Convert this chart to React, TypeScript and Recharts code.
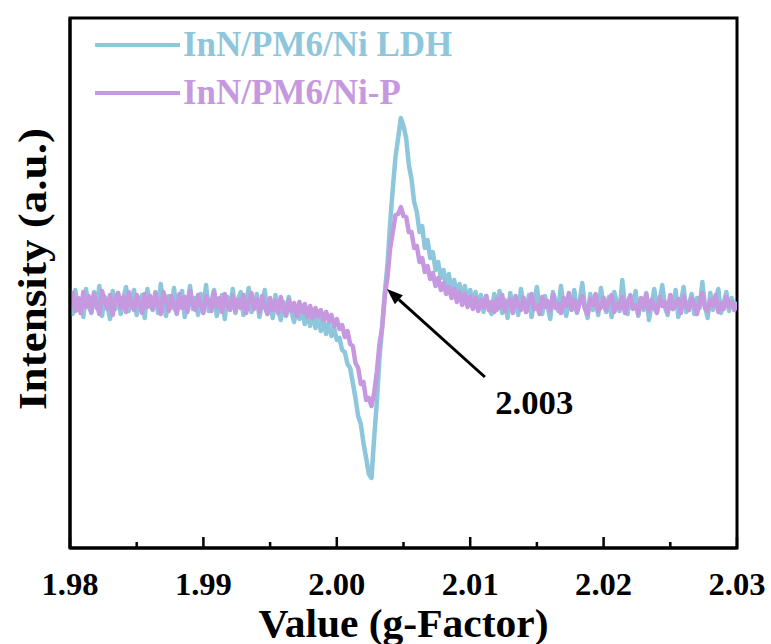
import { ComposedChart, Label, Legend, Line, ReferenceArea, ReferenceDot, ReferenceLine, XAxis, YAxis } from 'recharts';

const SERIF = '"Liberation Serif", "Times New Roman", serif';
const BLUE = '#8ec6dc';
const PURPLE = '#c598e0';

// g-factor grid the trace was read at
const G_START = 1.98;
const G_STEP = 0.0002;

const xTicks = [1.98, 1.985, 1.99, 1.995, 2.0, 2.005, 2.01, 2.015, 2.02, 2.025, 2.03];

// intensities (a.u.), one per grid step
const ldhIntensity = [
  4, -16, 8, -12, -1, -19, 9, -8, -15, 6,
  -10, 12, -18, 1, -6, -21, 7, -11, 5, -16,
  0, 11, -13, -3, 8, -17, -5, 3, -20, 9,
  -7, -12, 6, -15, 14, -6, -18, 2, -10, 10,
  -16, -2, 7, -19, -5, 12, -11, 0, -17, 4,
  -9, 13, -13, -3, 8, -18, -7, 3, -21, 1,
  -11, 9, -15, -1, 6, -17, -4, 10, -14, -8,
  4, -19, -6, 8, -16, -2, -20, 3, -12, -22,
  -4, -18, 1, -14, -24, -8, -21, -11, -26, -13,
  -28, -12, -30, -17, -33, -22, -36, -25, -38, -30,
  -42, -40, -52, -54, -66, -70, -85, -100, -118, -126, -145, -160, -176, -180,
  -140, -104, -60, -29, 5, 34, 75, 110, 141, 160, 180,
  172, 160, 133, 119, 96, 86, 66, 72, 50, 58, 40, 46, 28, 36, 20,
  28, 12, 24, 6, 18, 2, 14, -2, 12, -6, 8,
  -8, 6, -12, 3, -14, 2, -10, -16, 4, -12,
  7, -15, -2, -20, 5, -9, -1, -17, 9, -6,
  -14, 3, -19, -4, 11, -10, -16, 2, -8, -21,
  6, -3, -13, 12, -7, -18, 0, -11, 8, -15,
  -4, 15, -9, -20, 4, -12, -2, -17, 10, -7,
  -14, 1, -19, 6, -5, -13, 18, -8, -16, 3,
  -10, 7, -18, -1, -12, 5, -22, -6, 9, -13,
  -3, 13, -9, -17, 2, -11, 8, -19, -4, 11,
  -14, -6, 4, -16, 0, -10, 16, -8, -20, 5,
  -12, -2, 9, -15, -5, 6, -13, 0, -9, -4,
];

const niPIntensity = [
  -8, 5, -13, 0, -15, 6, -9, 2, -14, 4,
  -6, -16, 7, -2, -11, 3, -17, -1, 5, -10,
  1, -14, 6, -7, -12, 3, -5, -15, 4, -9,
  2, -11, 5, -6, -16, 6, -3, -13, 2, -8,
  -15, 4, -10, 1, -14, 7, -5, -12, 3, -7,
  -15, 2, -3, -13, 6, -9, 0, -14, 4, -6,
  -12, 2, -13, -2, -10, 3, -15, -4, 5, -11,
  -1, -14, 2, -9, -16, 0, -12, -3, -15, 1,
  -10, -17, -2, -13, -5, -18, -4, -14, -6, -19,
  -8, -20, -10, -18, -12, -22, -14, -23, -17, -28,
  -21, -31, -27, -39, -33, -46, -48, -65, -70, -86, -84, -102, -100, -108,
  -95, -74, -46, -29, 2, 21, 50, 66, 83, 84, 91,
  82, 81, 66, 66, 50, 52, 36, 40, 26, 32, 19, 25, 12, 20, 8,
  15, 4, 11, 0, 9, -4, 6, -7, 4, -9, 1,
  -11, 0, -13, -2, -9, 2, -12, -4, -14, -1,
  -10, 3, -13, -5, -1, -15, 2, -8, -12, 0,
  -14, -4, 4, -11, -7, -16, 1, -9, -3, -13,
  3, -10, -6, -15, 0, -8, 5, -12, -2, -14,
  -5, 2, -11, -16, -1, -7, 4, -13, -9, 0,
  -12, -3, 3, -14, -6, -10, 1, -15, -4, 2,
  -11, -7, -16, 0, -9, 4, -13, -2, -10, -15,
  1, -8, -4, -14, 3, -11, -6, -1, -15, 2,
  -9, -12, 0, -7, -16, -3, 5, -10, -13, -2,
  -8, 3, -14, -5, -11, 1, -9, -4, -12, -6,
];

const data = ldhIntensity.map((v, i) => ({
  g: +(G_START + i * G_STEP).toFixed(5),
  ldh: v,
  nip: niPIntensity[i],
}));

function GTick(props: any) {
  const { x, y, payload } = props;
  const v = payload.value as number;
  const major = Math.abs(v * 100 - Math.round(v * 100)) < 1e-6;
  return (
    <g>
      <line x1={x} x2={x} y1={y} y2={y - (major ? 11 : 6)} stroke="#000" strokeWidth={2.5} />
      {major && (
        <text
          x={x}
          y={y + 47}
          textAnchor="middle"
          fontFamily={SERIF}
          fontWeight="bold"
          fontSize={32}
          textLength={57}
          lengthAdjust="spacingAndGlyphs"
          fill="#000"
        >
          {v.toFixed(2)}
        </text>
      )}
    </g>
  );
}

/** plain black arrow, head at the second point of the segment */
function Arrow(props: any) {
  const { x1, y1, x2, y2 } = props;
  const ang = Math.atan2(y2 - y1, x2 - x1);
  const len = 16;
  const half = 6;
  const bx = x2 - len * Math.cos(ang);
  const by = y2 - len * Math.sin(ang);
  const px = -Math.sin(ang) * half;
  const py = Math.cos(ang) * half;
  return (
    <g>
      <line x1={x1} y1={y1} x2={bx} y2={by} stroke="#000" strokeWidth={3} />
      <polygon points={`${x2},${y2} ${bx + px},${by + py} ${bx - px},${by - py}`} fill="#000" />
    </g>
  );
}

function LegendBox({ payload }: any) {
  return (
    <div>
      {(payload || []).map((item: any) => (
        <div key={item.value} style={{ display: 'flex', alignItems: 'center', height: 48 }}>
          <svg width={91} height={10}>
            <line x1={3} x2={88} y1={5} y2={5} stroke={item.color} strokeWidth={4} />
          </svg>
          <span
            style={{ color: item.color, fontFamily: SERIF, fontWeight: 'bold', fontSize: 35, lineHeight: '48px', whiteSpace: 'nowrap' }}
          >
            {item.value}
          </span>
        </div>
      ))}
    </div>
  );
}

export default function App() {
  return (
    <div style={{ position: 'absolute', left: 0, top: 0, width: 771, height: 644, background: '#fff' }}>
      <ComposedChart width={771} height={644} data={data} margin={{ top: 18, right: 34, bottom: 0, left: 0 }}>
        <XAxis
          dataKey="g"
          type="number"
          domain={[1.98, 2.03]}
          ticks={xTicks}
          interval={0}
          tickSize={0}
          tickMargin={0}
          tickLine={false}
          tick={<GTick />}
          axisLine={{ stroke: '#000', strokeWidth: 3 }}
          height={96}
          allowDataOverflow
        >
          <Label
            content={({ viewBox }: any) => (
              <text
                x={viewBox.x + viewBox.width / 2}
                y={viewBox.y + 89}
                textAnchor="middle"
                fontFamily={SERIF}
                fontWeight="bold"
                fontSize={39}
                textLength={290}
                lengthAdjust="spacingAndGlyphs"
                fill="#000"
              >
                Value (g-Factor)
              </text>
            )}
          />
        </XAxis>
        <YAxis
          type="number"
          domain={[-250, 280]}
          width={70}
          tick={false}
          tickLine={false}
          axisLine={{ stroke: '#000', strokeWidth: 3 }}
          allowDataOverflow
        >
          <Label
            content={() => (
              <text
                x={46}
                y={269}
                transform="rotate(-90 46 269)"
                textAnchor="middle"
                fontFamily={SERIF}
                fontWeight="bold"
                fontSize={40}
                textLength={282}
                lengthAdjust="spacingAndGlyphs"
                fill="#000"
              >
                Intensity (a.u.)
              </text>
            )}
          />
        </YAxis>
        <ReferenceArea
          x1={1.98}
          x2={2.03}
          y1={-250}
          y2={280}
          fill="none"
          stroke="#000"
          strokeWidth={3}
          ifOverflow="visible"
        />
        <Legend
          layout="vertical"
          align="center"
          verticalAlign="middle"
          wrapperStyle={{ left: 92, top: 21, width: 'auto', height: 'auto' }}
          content={<LegendBox />}
        />
        <Line
          name="InN/PM6/Ni LDH"
          type="linear"
          dataKey="ldh"
          stroke={BLUE}
          strokeWidth={4.5}
          strokeLinejoin="round"
          dot={false}
          isAnimationActive={false}
        />
        <Line
          name="InN/PM6/Ni-P"
          type="linear"
          dataKey="nip"
          stroke={PURPLE}
          strokeWidth={4.5}
          strokeLinejoin="round"
          dot={false}
          isAnimationActive={false}
        />
        <ReferenceLine
          segment={[
            { x: 2.0111, y: -79 },
            { x: 2.00376, y: 9 },
          ]}
          shape={Arrow}
          ifOverflow="visible"
        />
        <ReferenceDot
          x={2.0148}
          y={-104}
          r={0}
          ifOverflow="visible"
          shape={(p: any) => (
            <text
              x={p.cx}
              y={p.cy + 12}
              textAnchor="middle"
              fontFamily={SERIF}
              fontWeight="bold"
              fontSize={34}
              textLength={78}
              lengthAdjust="spacingAndGlyphs"
              fill="#000"
            >
              2.003
            </text>
          )}
        />
      </ComposedChart>
    </div>
  );
}
